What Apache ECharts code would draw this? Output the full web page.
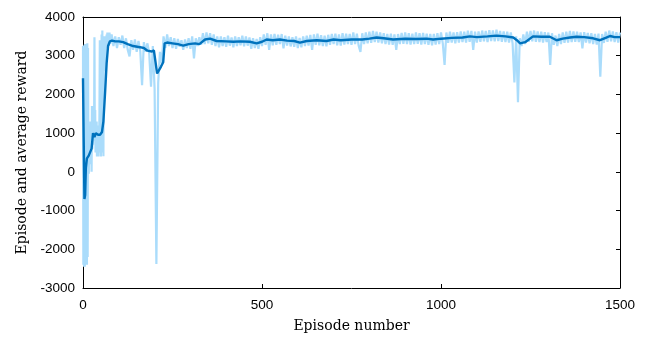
<!DOCTYPE html>
<html>
<head>
<meta charset="utf-8">
<script src="https://cdn.jsdelivr.net/npm/echarts@6/dist/echarts.min.js"></script>
<style>html,body{margin:0;padding:0;background:#fff}#c{width:650px;height:338px}</style>
</head>
<body>
<div id="c"></div>
<script>
// Episode rewards, first 80 episodes (explicit episode numbers)
var earlyEpisodes = [0,1,2,3,4,5,6,7,8,9,10,11,12,13,14,15,16,17,18,19,20,21,22,23,24,25,26,27,28,29,30,31,32,33,34,35,36,37,38,39,40,41,42,43,44,45,46,47,48,49,50,51,52,53,54,55,56,57,58,59,60,61,62,63,64,65,66,67,68,69,70,72,74,76,78];
var earlyRewards = [3250,-2400,2400,-2450,3280,-2450,3300,-2400,3250,-2300,3300,-2400,3320,-2200,3200,300,-50,600,300,800,200,1300,400,900,0,1700,600,1100,700,1500,900,1200,3480,800,1600,500,1100,700,1300,400,1000,800,1200,400,1000,600,1500,3400,500,1200,400,1000,3550,700,3650,500,3500,400,3400,3300,3500,2600,3300,3000,3450,3200,3550,3250,3600,3300,3500,3250,3600,3300,3450];
// Episode rewards from episode 80 to 1500, one value every 5 episodes
var laterStart = 80, laterStep = 5;
var laterRewards = [
3550,3250,3500,3200,3480,3280,3520,3200,3450,3150,2980,3400,3150,3420,3100,3380,3120,2240,3350,3100,
3320,3050,2200,3250,2150,-2380,2300,3100,2800,3500,3200,3550,3250,3480,3200,3450,3180,3430,3230,3400,
3150,3420,3200,3450,3180,3500,2930,3450,3250,3480,3280,3580,3300,3600,3320,3580,3280,3550,3250,3500,
3220,3500,3250,3480,3230,3520,3260,3470,3220,3500,3250,3480,3270,3520,3240,3500,3260,3470,3180,3450,
3200,3430,3180,3480,3250,3550,3280,3580,3150,3550,3270,3560,3280,3540,3300,3560,3190,3520,3260,3500,
3240,3480,3230,3500,3200,3460,3220,3500,3250,3520,3260,3540,3150,3550,3280,3570,3270,3530,3250,3520,
3240,3540,3280,3560,3300,3570,3270,3550,3260,3580,3290,3570,3300,3560,3280,3600,3300,3570,3260,3100,
3580,3300,3600,3320,3620,3330,3640,3350,3620,3340,3600,3320,3580,3300,3560,3290,3570,3280,3550,3150,
3560,3300,3590,3310,3600,3300,3580,3290,3570,3300,3600,3310,3580,3290,3590,3300,3570,3280,3560,3270,
3560,3290,3580,3300,3600,3320,2760,3600,3330,3620,3340,3600,3320,3610,3340,3630,3350,3620,3340,3650,
3360,3640,3150,3620,3340,3630,3360,3650,3370,3640,3350,3660,3380,3650,3370,3670,3380,3640,3360,3630,
3350,3620,3340,3600,3320,2310,3500,1800,3450,3250,3550,3300,3620,3360,3640,3370,3650,3360,3630,3350,
3620,3340,3610,3350,3600,2760,3580,3280,3520,3250,3560,3300,3600,3330,3620,3340,3640,3350,3630,3360,
3620,3350,3600,3190,3610,3340,3590,3320,3580,3300,3560,3290,3570,2460,3560,3330,3620,3360,3650,3370,
3630,3350,3610,3340,3600
];
// Average reward curve
var avgEpisodes = [0,2,4,6,8,11,16,20,24,28,32,36,42,48,53,57,62,66,70,75,81,90,100,112,125,140,159,170,180,192,198,202,207,212,218,224,228,235,250,265,280,295,313,325,341,355,373,400,420,440,466,485,500,513,530,550,570,590,606,625,653,680,700,720,750,780,800,820,840,866,900,930,960,978,1000,1030,1060,1081,1100,1130,1155,1180,1202,1212,1221,1235,1257,1280,1304,1323,1340,1360,1379,1400,1425,1444,1460,1472,1485,1500];
var avgRewards = [2420,800,-700,-600,100,350,420,450,600,1000,900,1000,960,960,1030,1300,2100,2800,3250,3370,3390,3370,3370,3350,3300,3250,3220,3200,3130,3110,3140,3110,2540,2620,2720,2830,3320,3340,3320,3300,3260,3300,3320,3300,3420,3440,3380,3370,3360,3370,3360,3320,3360,3420,3400,3420,3390,3380,3340,3380,3400,3380,3420,3400,3420,3420,3440,3470,3450,3420,3440,3430,3440,3420,3440,3460,3470,3500,3480,3500,3520,3500,3470,3400,3320,3350,3500,3490,3490,3400,3440,3470,3490,3480,3450,3400,3460,3510,3480,3480];
var xTicks = [0,500,1000,1500];
var yTicks = [-3000,-2000,-1000,0,1000,2000,3000,4000];

var episodeData = [];
for (var i = 0; i < earlyEpisodes.length; i++) episodeData.push([earlyEpisodes[i], earlyRewards[i]]);
for (var j = 0; j < laterRewards.length; j++) episodeData.push([laterStart + j * laterStep, laterRewards[j]]);
var avgData = avgEpisodes.map(function (e, k) { return [e, avgRewards[k]]; });

var plain = function (v) { return String(v); };
var labelFont = {fontFamily: 'Liberation Sans, Arial, sans-serif', fontSize: 13.5, color: '#000', formatter: plain};
var nameFont = {fontFamily: 'DejaVu Serif, Liberation Serif, serif', fontSize: 14, color: '#000'};
var chart = echarts.init(document.getElementById('c'), null, {renderer: 'canvas'});
chart.setOption({
  animation: false,
  backgroundColor: '#fff',
  grid: {left: 83, right: 30, top: 17, bottom: 50, show: false},
  xAxis: [{
    type: 'value', min: xTicks[0], max: xTicks[xTicks.length - 1], interval: 500,
    name: 'Episode number', nameLocation: 'middle', nameGap: 31, nameTextStyle: nameFont,
    axisLine: {show: true, onZero: false, lineStyle: {color: '#000', width: 1}},
    axisTick: {show: true, inside: true, length: 4, lineStyle: {color: '#000'}},
    axisLabel: Object.assign({margin: 10}, labelFont),
    splitLine: {show: false}
  }, {
    type: 'value', position: 'top', min: xTicks[0], max: xTicks[xTicks.length - 1], interval: 500,
    axisLine: {show: true, onZero: false, lineStyle: {color: '#000', width: 1}},
    axisTick: {show: true, inside: true, length: 4, lineStyle: {color: '#000'}},
    axisLabel: {show: false}, splitLine: {show: false}
  }],
  yAxis: [{
    type: 'value', min: yTicks[0], max: yTicks[yTicks.length - 1], interval: 1000,
    name: 'Episode and average reward', nameLocation: 'middle', nameGap: 54, nameTextStyle: nameFont,
    axisLine: {show: true, onZero: false, lineStyle: {color: '#000', width: 1}},
    axisTick: {show: true, inside: true, length: 4, lineStyle: {color: '#000'}},
    axisLabel: Object.assign({margin: 8}, labelFont),
    splitLine: {show: false}
  }, {
    type: 'value', position: 'right', min: yTicks[0], max: yTicks[yTicks.length - 1], interval: 1000,
    axisLine: {show: true, onZero: false, lineStyle: {color: '#000', width: 1}},
    axisTick: {show: true, inside: true, length: 4, lineStyle: {color: '#000'}},
    axisLabel: {show: false}, splitLine: {show: false}
  }],
  series: [{
    name: 'Episode reward', type: 'line', data: episodeData, showSymbol: false, symbol: 'none',
    lineStyle: {color: '#aadcfb', width: 2.2}, clip: true, z: 2
  }, {
    name: 'Average reward', type: 'line', data: avgData, showSymbol: false, symbol: 'none',
    lineStyle: {color: '#0072bd', width: 2.4}, clip: true, z: 3
  }]
});
</script>
</body>
</html>
